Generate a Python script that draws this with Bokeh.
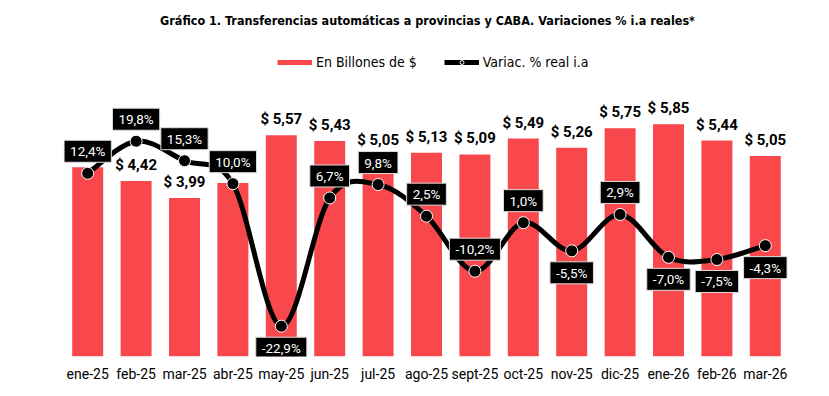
from bokeh.plotting import figure
from bokeh.models import Range1d, FixedTicker, Label, Legend, LegendItem, ColumnDataSource
from bokeh.core.properties import value
from bokeh.embed import file_html
from bokeh.resources import INLINE

months = ["ene-25", "feb-25", "mar-25", "abr-25", "may-25", "jun-25", "jul-25", "ago-25",
          "sept-25", "oct-25", "nov-25", "dic-25", "ene-26", "feb-26", "mar-26"]
billones = [4.77, 4.42, 3.99, 4.37, 5.57, 5.43, 5.05, 5.13, 5.09, 5.49, 5.26, 5.75, 5.85, 5.44, 5.05]
variac = [12.4, 19.8, 15.3, 10.0, -22.9, 6.7, 9.8, 2.5, -10.2, 1.0, -5.5, 2.9, -7.0, -7.5, -4.3]
# bar value labels hidden behind the variation boxes in the original
bar_label_shown = [False, True, True, False, True, True, True, True, True, True, True, True, True, True, True]
# variation label placed below the point
var_label_below = [False, False, False, False, True, False, False, False, False, False, True, False, True, True, True]

TITLE = "Gráfico 1. Transferencias automáticas a provincias y CABA. Variaciones % i.a reales*"
RED = "#F9484C"
NARROW = "'Liberation Sans Narrow', 'DejaVu Sans Condensed', 'Roboto Condensed', sans-serif"

n = len(months)
idx = list(range(n))

p = figure(width=821, height=388, x_range=Range1d(-0.5, n - 0.5), y_range=Range1d(0, 8.967),
           output_backend="svg", toolbar_location=None, y_axis_location=None,
           min_border_left=63, min_border_right=32, min_border_top=0, min_border_bottom=32)
p.extra_y_ranges = {"right": Range1d(-29.89, 52.28)}
p.xgrid.visible = False
p.ygrid.visible = False
p.outline_line_color = None
p.background_fill_color = "white"
p.border_fill_color = "white"

# bars
bar_src = ColumnDataSource(dict(x=idx, top=billones))
p.vbar(x="x", top="top", width=0.64, source=bar_src, fill_color=RED, line_color=None)

# bar labels
bl_x = [i for i in idx if bar_label_shown[i]]
bl_y = [billones[i] for i in idx if bar_label_shown[i]]
bl_t = ["$ " + f"{billones[i]:.2f}".replace(".", ",") for i in idx if bar_label_shown[i]]
p.text(x=bl_x, y=bl_y, text=bl_t, text_align="center", text_baseline="middle", y_offset=-16,
       text_font=value("Roboto"), text_font_size="15px", text_font_style="bold",
       text_color="black")

# smooth line via bezier segments
def pt(i):
    i = max(0, min(n - 1, i))
    return idx[i], variac[i]

bz = dict(x0=[], y0=[], x1=[], y1=[], cx0=[], cy0=[], cx1=[], cy1=[])
for i in range(n - 1):
    xa, ya = pt(i - 1)
    xb, yb = pt(i)
    xc, yc = pt(i + 1)
    xd, yd = pt(i + 2)
    bz["x0"].append(xb); bz["y0"].append(yb)
    bz["x1"].append(xc); bz["y1"].append(yc)
    bz["cx0"].append(xb + (xc - xa) / 6); bz["cy0"].append(yb + (yc - ya) / 6)
    bz["cx1"].append(xc - (xd - xb) / 6); bz["cy1"].append(yc - (yd - yb) / 6)
p.bezier(x0="x0", y0="y0", x1="x1", y1="y1", cx0="cx0", cy0="cy0", cx1="cx1", cy1="cy1",
         source=ColumnDataSource(bz), line_color="black", line_width=5, line_cap="round",
         y_range_name="right")
p.scatter(x=idx, y=variac, size=12, fill_color="black", line_color="white", line_width=1,
          y_range_name="right")

# variation labels
vl_src = ColumnDataSource(dict(
    x=idx, y=variac,
    t=[f"{v:.1f}".replace(".", ",") + "%" for v in variac],
    off=[22 if b else -22 for b in var_label_below]))
p.text(x="x", y="y", text="t", y_offset="off", source=vl_src, y_range_name="right",
       text_align="center", text_baseline="middle", text_color="white",
       text_font=value("Roboto"), text_font_size="13.5px",
       background_fill_color="black", border_line_color="#dddddd", border_line_width=1,
       padding=(6, 3))

# x axis
p.xaxis.ticker = FixedTicker(ticks=idx)
p.xaxis.major_label_overrides = {i: m for i, m in enumerate(months)}
p.xaxis.axis_line_color = None
p.xaxis.major_tick_line_color = None
p.xaxis.minor_tick_line_color = None
p.xaxis.major_tick_out = 0
p.xaxis.major_label_standoff = 9
p.xaxis.major_label_text_font = "Roboto"
p.xaxis.major_label_text_font_size = "14px"
p.xaxis.major_label_text_color = "black"

# title
p.add_layout(Label(x=364, y=336, x_units="screen", y_units="screen", text=TITLE,
                   text_align="center", text_baseline="middle", text_font=NARROW,
                   text_font_size="12.5px", text_font_style="bold", text_color="black"))

# legend (swatches drawn from off-screen points so that only the legend shows them)
leg_bar = p.line(x=[-5, -4], y=[-1, -1], line_color=RED, line_width=5)
leg_line = p.line(x=[-5, -4], y=[-1, -1], line_color="black", line_width=5)
leg_pt = p.scatter(x=[-5], y=[-1], size=6, fill_color="black", line_color="white", line_width=1)
legend = Legend(items=[LegendItem(label="En Billones de $", renderers=[leg_bar]),
                       LegendItem(label="Variac. % real i.a", renderers=[leg_line, leg_pt])],
                location=(214, 286), orientation="horizontal", background_fill_alpha=0,
                border_line_alpha=0, padding=0, margin=0, spacing=27, glyph_width=35,
                glyph_height=10, label_standoff=4, label_height=16,
                label_text_font=NARROW, label_text_font_size="14px", label_text_color="black")
p.add_layout(legend)

open("out.html", "w").write(file_html(p, INLINE))
